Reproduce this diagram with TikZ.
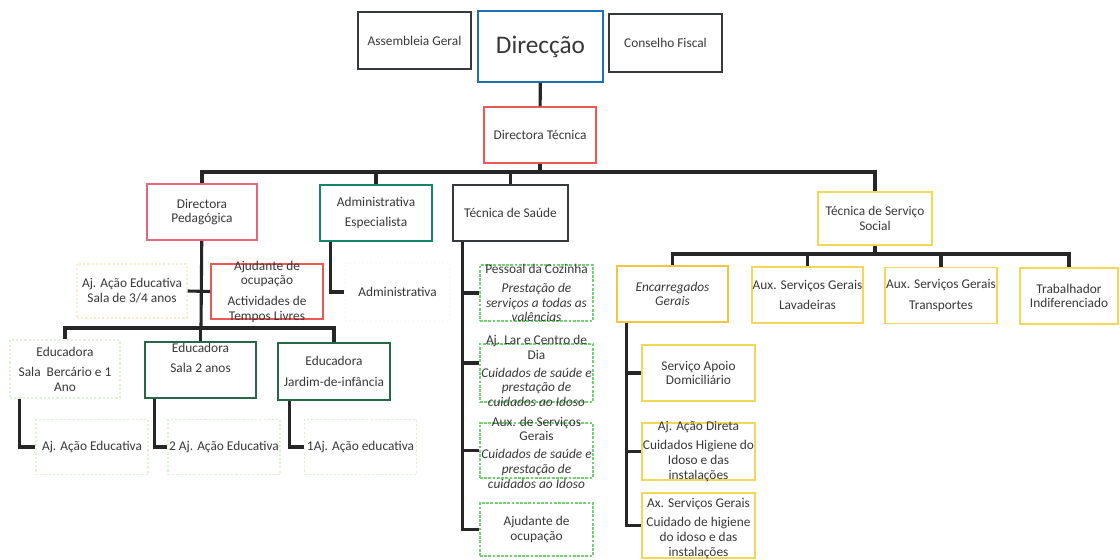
\documentclass[tikz,border=0pt]{standalone}
\usepackage{fontspec}
\setmainfont{Carlito}
\usepackage{xcolor}
\usetikzlibrary{calc,positioning}
\definecolor{boxgray}{RGB}{55,58,60}
\definecolor{boxblue}{RGB}{30,112,182}
\definecolor{boxred}{RGB}{236,88,84}
\definecolor{boxpink}{RGB}{232,102,122}
\definecolor{boxteal}{RGB}{22,132,108}
\definecolor{boxgreen}{RGB}{38,104,72}
\definecolor{boxyellow}{RGB}{242,216,84}
\definecolor{boxorange}{RGB}{240,200,64}
\definecolor{boxlime}{RGB}{112,210,112}
\definecolor{boxfaint}{RGB}{222,240,214}
\definecolor{boxcream}{RGB}{244,240,206}
\tikzset{%
	unit/.style  = {draw, rectangle, line width=1.1pt, minimum width=2.8cm, minimum height=1.4cm, inner sep=0pt},
	faint/.style = {unit, line width=0.8pt, dash pattern=on 1.5pt off 1.5pt},
	lime/.style  = {unit, draw=boxlime, line width=0.9pt, dash pattern=on 2pt off 1pt},
	txt/.style   = {align=center, text=black!78, font=\fontsize{9.5}{10.5}\selectfont},
	link/.style  = {line width=2.2pt, black!85},
}
\begin{document}
\begin{tikzpicture}[x=0.025cm,y=-0.025cm]
		\useasboundingbox[fill=white] (0,0) rectangle (1120,560);
		% top row
		\node[unit, draw=boxgray, minimum width=2.825cm, minimum height=1.425cm, label={[txt]center:Assembleia Geral}] (asm) at (414.5,40.5) {};
		\node[unit, draw=boxblue, minimum width=3.125cm, minimum height=1.775cm, label={[txt,font=\fontsize{18}{21}\selectfont]center:Direcção}] (dir) at (540.5,46.5) {};
		\node[unit, draw=boxgray, minimum width=2.825cm, minimum height=1.45cm, label={[txt]center:Conselho Fiscal}] (fis) at (665.5,43) {};
		\node[unit, draw=boxred, label={[txt]center:Directora Técnica}] (tec) at (540,135) {};
		% second row
		\node[unit, draw=boxpink, minimum width=2.75cm, label={[txt]center:{Directora\\Pedagógica}}] (ped) at (202,212) {};
		\node[unit, draw=boxteal, label={[txt]center:{Administrativa\\[4pt]Especialista}}] (adm) at (376,213) {};
		\node[unit, draw=boxgray, minimum width=2.875cm, label={[txt]center:Técnica de Saúde}] (sau) at (510.5,213) {};
		\node[unit, draw=boxyellow, minimum width=2.85cm, minimum height=1.325cm, label={[txt]center:{Técnica de Serviço\\Social}}] (soc) at (875,218.5) {};
		% pedagogia
		\node[faint, draw=boxcream, minimum width=2.75cm, minimum height=1.35cm, label={[txt]center:{Aj. Ação Educativa\\Sala de 3/4 anos}}] (ajs) at (132,291) {};
		\node[unit, draw=boxred, minimum height=1.375cm, label={[txt]center:{Ajudante de\\ocupação\\[4pt]Actividades de\\Tempos Livres}}] (ocu) at (267,291.5) {};
		\node[faint, draw=black!2, minimum width=2.625cm, minimum height=1.45cm, label={[txt]center:Administrativa}] (admb) at (397.5,292) {};
		\node[faint, draw=boxfaint, minimum width=2.75cm, minimum height=1.45cm, label={[txt]center:{Educadora\\[4pt]Sala\ \ Bercário e 1\\Ano}}] (ed1) at (65,369) {};
		\node[unit, draw=boxgreen, minimum width=2.775cm, label={[txt,yshift=0.3cm]center:{Educadora\\[4pt]Sala 2 anos}}] (ed2) at (200.5,370) {};
		\node[unit, draw=boxgreen, minimum height=1.425cm, label={[txt]center:{Educadora\\[4pt]Jardim-de-infância}}] (ed3) at (334,371.5) {};
		\node[faint, draw=boxfaint, minimum height=1.375cm, label={[txt]center:Aj. Ação Educativa}] (aj1) at (92,447) {};
		\node[faint, draw=boxfaint, minimum height=1.375cm, label={[txt]center:2 Aj. Ação Educativa}] (aj2) at (224,447) {};
		\node[faint, draw=boxfaint, minimum height=1.375cm, label={[txt]center:1Aj. Ação educativa}] (aj3) at (360.5,447) {};
		% saude
		\node[lime, minimum width=2.825cm, label={[txt]center:{Pessoal da Cozinha\\[3pt]\textit{Prestação de}\\\textit{serviços a todas as}\\\textit{valências}}}] (coz) at (536.5,293) {};
		\node[lime, minimum width=2.825cm, minimum height=1.45cm, label={[txt,yshift=0.05cm]center:{Aj. Lar e Centro de\\Dia\\[2pt]\textit{Cuidados de saúde e}\\\textit{prestação de}\\\textit{cuidados ao Idoso}}}] (lar) at (536.5,373) {};
		\node[lime, minimum width=2.825cm, minimum height=1.375cm, label={[txt,yshift=-0.05cm]center:{Aux. de Serviços\\Gerais\\[2pt]\textit{Cuidados de saúde e}\\\textit{prestação de}\\\textit{cuidados ao Idoso}}}] (aux) at (536.5,450.5) {};
		\node[lime, minimum width=2.825cm, minimum height=1.325cm, label={[txt]center:{Ajudante de\\ocupação}}] (ocs) at (536.5,529.5) {};
		% servico social
		\node[unit, draw=boxorange, minimum width=2.775cm, label={[txt]center:{\textit{Encarregados}\\\textit{Gerais}}}] (enc) at (672.5,294) {};
		\node[unit, draw=boxyellow, minimum width=2.775cm, label={[txt]center:{Aux. Serviços Gerais\\[4pt]Lavadeiras}}] (lav) at (807.5,295) {};
		\node[unit, draw=boxyellow, label={[txt]center:{Aux. Serviços Gerais\\[4pt]Transportes}}] (tra) at (941,295.5) {};
		\node[unit, draw=boxyellow, minimum width=2.45cm, label={[txt]center:{Trabalhador\\Indiferenciado}}] (ind) at (1069,296) {};
		\node[unit, draw=boxyellow, minimum width=2.825cm, label={[txt]center:{Serviço Apoio\\Domiciliário}}] (sad) at (698.5,373) {};
		\node[unit, draw=boxyellow, minimum width=2.825cm, minimum height=1.425cm, label={[txt]center:{Aj. Ação Direta\\[3pt]Cuidados Higiene do\\Idoso e das\\instalações}}] (acd) at (698.5,451.5) {};
		\node[unit, draw=boxyellow, minimum width=2.825cm, minimum height=1.625cm, label={[txt,yshift=-0.08cm]center:{Ax. Serviços Gerais\\[3pt]Cuidado de higiene\\do idoso e das\\instalações}}] (axs) at (698.5,525.5) {};
		% connectors
		\coordinate (tbus) at (540,172);
		\coordinate (pbus) at (201,328);
		\coordinate (sbus) at (875,254);
		\coordinate (strunk) at ([xshift=0.25cm]sau.south west);
		\coordinate (etrunk) at ([xshift=0.25cm]enc.south west);
		\draw[link] (dir) -- (tec);
		\draw[link] (tec) -- (tbus);
		\foreach \n in {ped,adm,sau,soc} \draw[link] (tbus) -| (\n);
		\draw[link] (ped) -- (pbus);
		\draw[link] (ajs.east) -- (ocu.west);
		\foreach \n in {ed1,ed2,ed3} \draw[link] (pbus) -| (\n);
		\draw[link] ([xshift=0.25cm]ed1.south west) |- (aj1.west);
		\draw[link] ([xshift=0.25cm]ed2.south west) |- (aj2.west);
		\draw[link] ([xshift=0.3cm]ed3.south west) |- (aj3.west);
		\draw[link] ([xshift=0.275cm]adm.south west) |- (admb.west);
		\foreach \n in {coz,aux,ocs} \draw[link] (strunk) |- (\n.west);
		\draw[link] (strunk) |- ([yshift=0.25cm]lar.west);
		\draw[link] (soc) -- (sbus);
		\foreach \n in {enc,lav,tra,ind} \draw[link] (sbus) -| (\n);
		\foreach \n in {sad,acd,axs} \draw[link] (etrunk) |- (\n.west);
\end{tikzpicture}
\end{document}
